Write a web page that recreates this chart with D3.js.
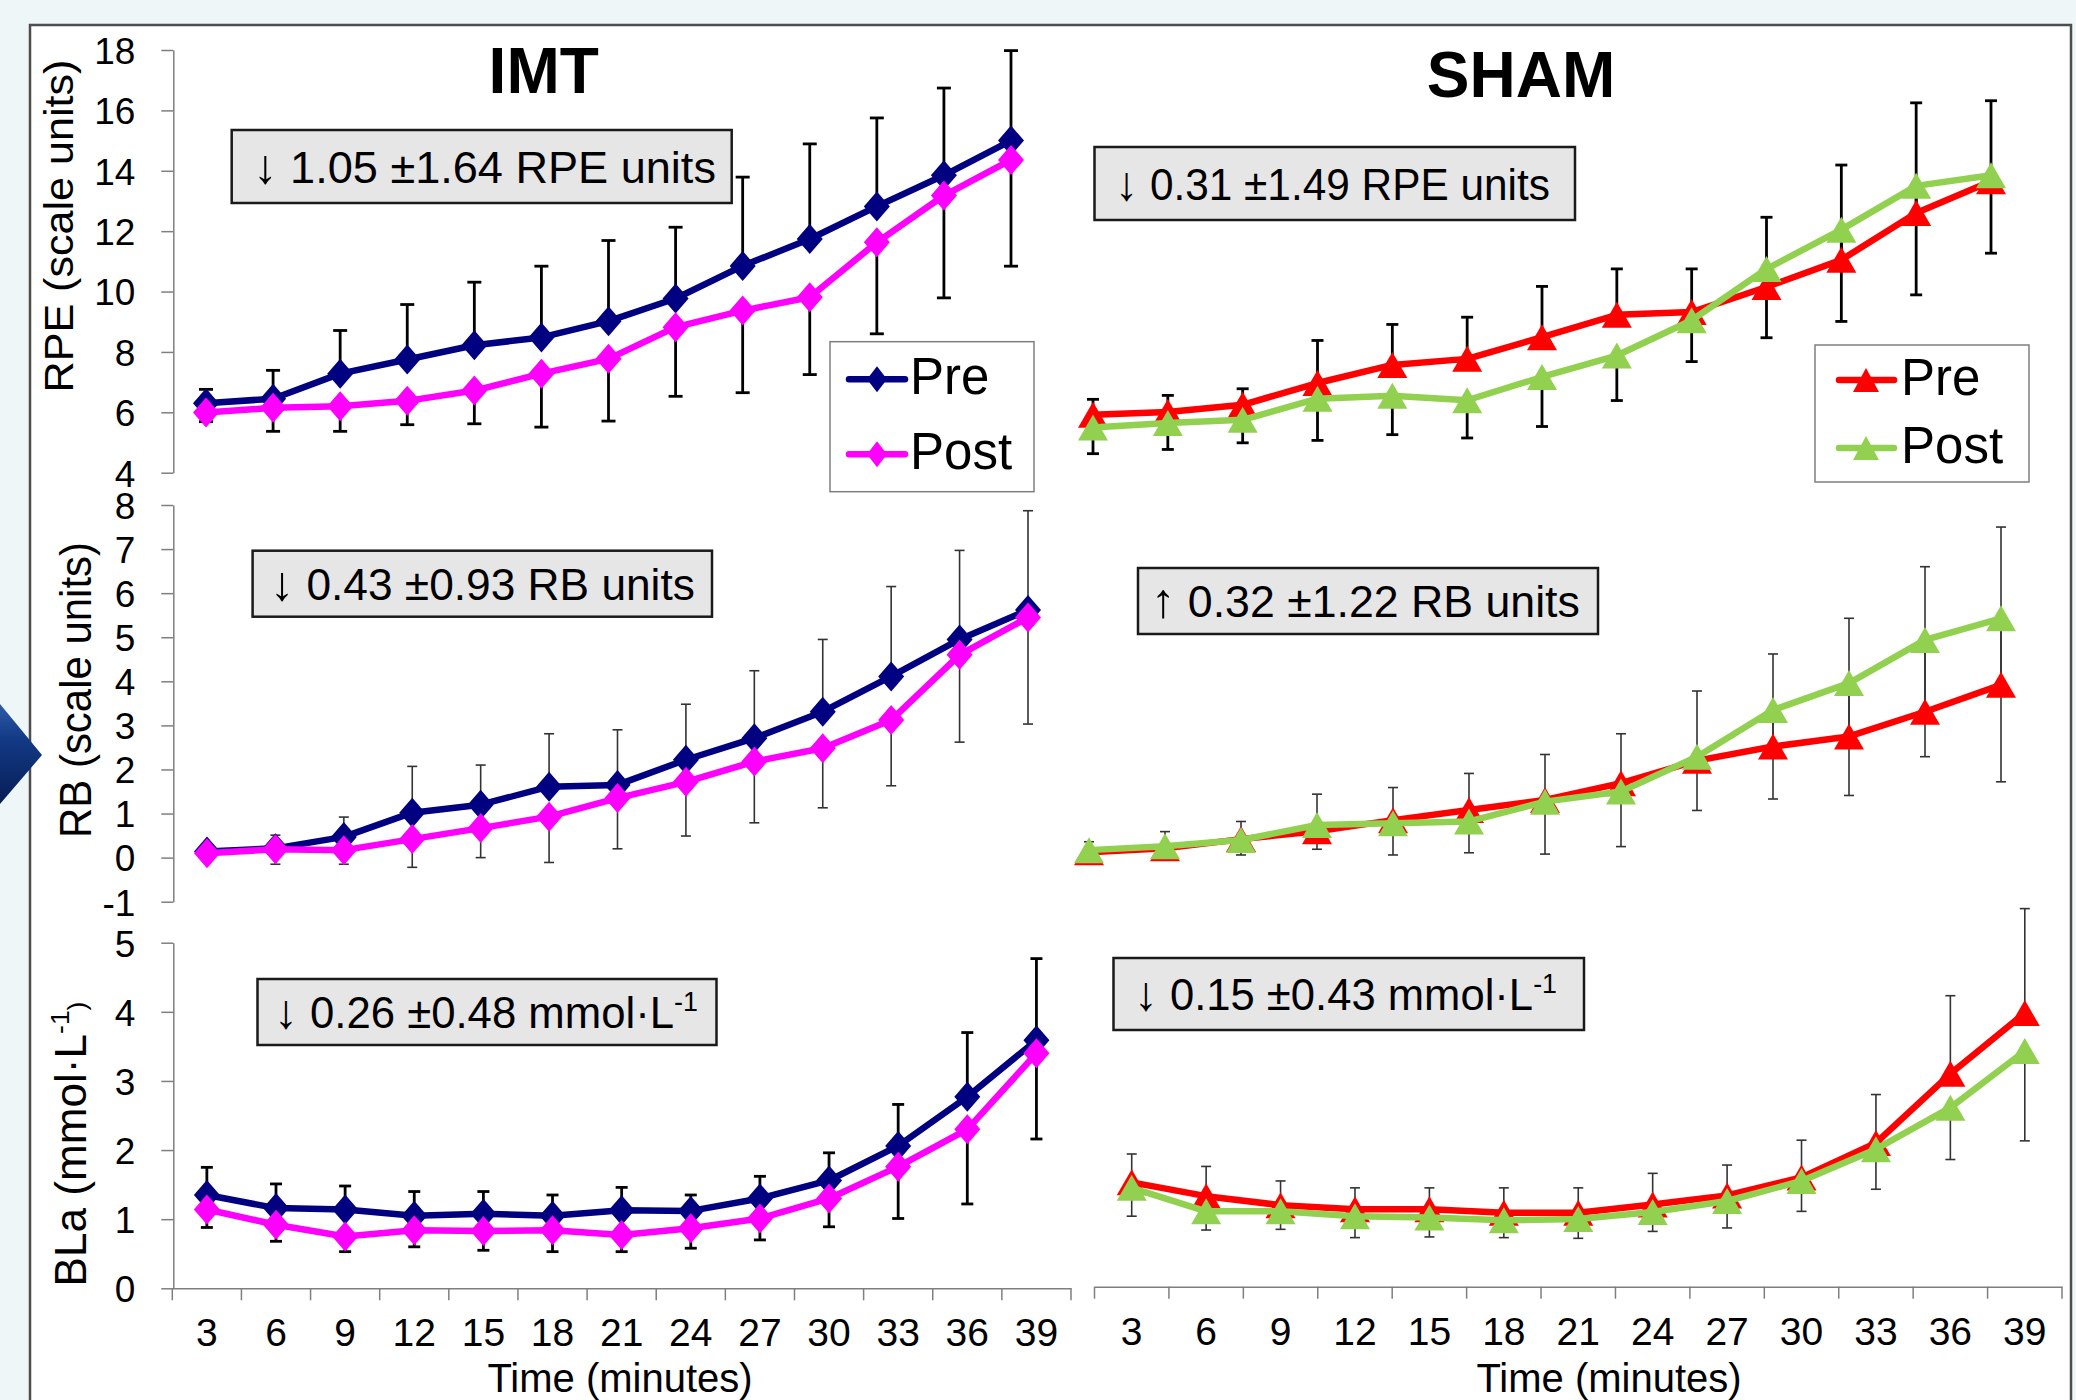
<!DOCTYPE html>
<html>
<head>
<meta charset="utf-8">
<script src="https://cdn.jsdelivr.net/npm/d3@7"></script>
<style>
	body { margin: 0; background: #eef6f8; }
	svg text { font-family: "Liberation Sans", Arial, sans-serif; fill: #000; }
</style>
</head>
<body>
<svg id="chart" width="2076" height="1400"></svg>
<script>
// x categories (minutes)
const TIMES = [3, 6, 9, 12, 15, 18, 21, 24, 27, 30, 33, 36, 39];

const RPE_TICKS = [4, 6, 8, 10, 12, 14, 16, 18];
const RB_TICKS = [-1, 0, 1, 2, 3, 4, 5, 6, 7, 8];
const BLA_TICKS = [0, 1, 2, 3, 4, 5];

// IMT group, means and SD (pre bars drawn up, post bars drawn down)
const IMT_RPE_PRE = [6.3, 6.45, 7.28, 7.75, 8.22, 8.48, 9.02, 9.77, 10.85, 11.74, 12.82, 13.85, 15.0];
const IMT_RPE_PRE_SD = [0.46, 0.94, 1.43, 1.82, 2.09, 2.36, 2.67, 2.36, 2.94, 3.15, 2.93, 2.89, 2.98];
const IMT_RPE_POST = [5.99, 6.15, 6.2, 6.38, 6.72, 7.28, 7.77, 8.82, 9.37, 9.81, 11.63, 13.18, 14.36];
const IMT_RPE_POST_SD = [0.3, 0.78, 0.83, 0.79, 1.1, 1.77, 2.06, 2.29, 2.72, 2.56, 3.03, 3.39, 3.52];

const IMT_RB_PRE = [0.14, 0.21, 0.47, 1.02, 1.2, 1.61, 1.65, 2.22, 2.71, 3.31, 4.11, 4.95, 5.62];
const IMT_RB_PRE_SD = [0.16, 0.3, 0.45, 1.05, 0.9, 1.2, 1.25, 1.26, 1.53, 1.64, 2.04, 2.02, 2.25];
const IMT_RB_POST = [0.1, 0.19, 0.17, 0.42, 0.67, 0.93, 1.35, 1.72, 2.18, 2.48, 3.12, 4.6, 5.45];
const IMT_RB_POST_SD = [0.1, 0.34, 0.32, 0.64, 0.67, 1.04, 1.15, 1.23, 1.39, 1.35, 1.49, 1.98, 2.42];

const IMT_BLA_PRE = [1.35, 1.16, 1.14, 1.05, 1.08, 1.05, 1.13, 1.12, 1.3, 1.56, 2.06, 2.77, 3.59];
const IMT_BLA_PRE_SD = [0.4, 0.35, 0.34, 0.35, 0.32, 0.3, 0.33, 0.23, 0.32, 0.4, 0.6, 0.93, 1.18];
const IMT_BLA_POST = [1.14, 0.92, 0.75, 0.84, 0.83, 0.84, 0.77, 0.87, 1.01, 1.3, 1.76, 2.3, 3.4];
const IMT_BLA_POST_SD = [0.26, 0.24, 0.22, 0.24, 0.28, 0.31, 0.24, 0.29, 0.31, 0.41, 0.75, 1.08, 1.24];

// SHAM group
const SHAM_RPE_PRE = [5.92, 6.01, 6.25, 6.97, 7.57, 7.77, 8.49, 9.23, 9.32, 10.15, 11.05, 12.6, 13.65];
const SHAM_RPE_PRE_SD = [0.51, 0.55, 0.53, 1.41, 1.34, 1.38, 1.68, 1.52, 1.43, 2.31, 3.14, 3.65, 2.67];
const SHAM_RPE_POST = [5.5, 5.65, 5.75, 6.45, 6.55, 6.4, 7.17, 7.88, 9.05, 10.75, 12.05, 13.5, 13.85];
const SHAM_RPE_POST_SD = [0.87, 0.88, 0.76, 1.38, 1.29, 1.25, 1.64, 1.49, 1.37, 2.28, 3.04, 3.61, 2.58];

const SHAM_RB_PRE = [0.12, 0.21, 0.42, 0.6, 0.85, 1.08, 1.31, 1.69, 2.2, 2.52, 2.75, 3.31, 3.92];
const SHAM_RB_PRE_SD = [0.24, 0.38, 0.4, 0.84, 0.74, 0.83, 1.03, 1.12, 1.58, 2.1, 2.68, 3.29, 3.58];
const SHAM_RB_POST = [0.17, 0.26, 0.4, 0.74, 0.78, 0.82, 1.27, 1.5, 2.29, 3.35, 3.96, 4.94, 5.43];
const SHAM_RB_POST_SD = [0.12, 0.14, 0.34, 0.55, 0.72, 0.71, 1.19, 1.25, 1.22, 2.02, 2.55, 2.65, 3.71];

const SHAM_BLA_PRE = [1.51, 1.31, 1.18, 1.12, 1.12, 1.07, 1.07, 1.19, 1.32, 1.58, 2.08, 3.08, 3.96];
const SHAM_BLA_PRE_SD = [0.41, 0.43, 0.35, 0.31, 0.31, 0.36, 0.36, 0.45, 0.44, 0.54, 0.7, 1.13, 1.51];
const SHAM_BLA_POST = [1.43, 1.09, 1.09, 1.02, 1.0, 0.96, 0.98, 1.08, 1.24, 1.53, 1.99, 2.59, 3.41];
const SHAM_BLA_POST_SD = [0.41, 0.27, 0.26, 0.31, 0.28, 0.25, 0.28, 0.28, 0.39, 0.44, 0.58, 0.75, 1.3];

// change boxes: [arrow, text, superscript]
const NOTE_IMT_RPE = ["↓", " 1.05 ±1.64 RPE units", ""];
const NOTE_SHAM_RPE = ["↓", " 0.31 ±1.49 RPE units", ""];
const NOTE_IMT_RB = ["↓", " 0.43 ±0.93 RB units", ""];
const NOTE_SHAM_RB = ["↑", " 0.32 ±1.22 RB units", ""];
const NOTE_IMT_BLA = ["↓", " 0.26 ±0.48 mmol·L", "-1"];
const NOTE_SHAM_BLA = ["↓", " 0.15 ±0.43 mmol·L", "-1"];

const SERIES_NAMES = ["Pre", "Post"];
const IMT_COLORS = ["#000080", "#FF00FF"];
const SHAM_COLORS = ["#FF0000", "#92D050"];

const FONT = '"Liberation Sans", Arial, sans-serif';


var svg = d3.select('#chart');

// slide background and white panel
svg.append('rect')
	.attr('width', 2076).attr('height', 1400)
	.attr('fill', '#eef6f8');
svg.append('rect')
	.attr('x', 30).attr('y', 25)
	.attr('width', 2041).attr('height', 1420)
	.attr('fill', '#fff')
	.attr('stroke', '#4d4d4d')
	.attr('stroke-width', 2.5);

// navigation chevron on the left edge
var grad = svg.append('defs').append('linearGradient')
	.attr('id', 'chev').attr('x1', 0).attr('y1', 0).attr('x2', 0).attr('y2', 1);
grad.append('stop').attr('offset', '0%').attr('stop-color', '#2f5aa8');
grad.append('stop').attr('offset', '35%').attr('stop-color', '#123a85');
grad.append('stop').attr('offset', '100%').attr('stop-color', '#081d55');
svg.append('path')
	.attr('d', 'M0,704L42,755L0,804Z')
	.attr('fill', 'url(#chev)');


function diamond(w, h) {
	return 'M0,' + (-h) + 'L' + w + ',0L0,' + h + 'L' + (-w) + ',0Z';
}
function triangle(w, h) {
	return 'M0,' + (-h) + 'L' + w + ',' + h + 'L' + (-w) + ',' + h + 'Z';
}

// squeeze/stretch a text so its length matches the original
function fitText(text, target) {
	var w = text.node().getComputedTextLength();
	text.attr('transform', 'scale(' + (target / w) + ',1)');
}

function drawChart(c) {
	var x, xPos;
	if (c.band) {
		x = d3.scaleBand().domain(TIMES).range(c.xRange);
		xPos = function(d) { return x(d) + x.bandwidth() / 2; };
	} else {
		x = d3.scalePoint().domain(TIMES).range(c.xRange);
		xPos = function(d) { return x(d); };
	}
	var y = d3.scaleLinear().domain(c.yDomain).range(c.yRange);
	var g = svg.append('g');

	// y axis (IMT side only)
	if (c.yTicks) {
		var ya = g.append('g')
			.attr('transform', 'translate(' + c.yAxisX + ',0)')
			.call(d3.axisLeft(y)
				.tickValues(c.yTicks)
				.tickFormat(function(d) { return String(d); })
				.tickSize(12).tickSizeOuter(0).tickPadding(26))
			.attr('color', '#7f7f7f')
			.attr('font-size', 37)
			.attr('font-family', FONT);
		ya.select('.domain').attr('stroke-width', 1.5);
		ya.selectAll('.tick line').attr('stroke-width', 1.5);
		ya.selectAll('.tick text').attr('fill', '#000').attr('dy', '0.36em');
	}

	// x axis with ticks between categories (bottom charts)
	if (c.band) {
		var xa = g.append('g')
			.attr('transform', 'translate(0,' + y(0) + ')')
			.call(d3.axisBottom(x).tickSize(0).tickSizeOuter(0))
			.attr('color', '#7f7f7f')
			.attr('font-size', 39)
			.attr('font-family', FONT);
		xa.select('.domain').attr('stroke-width', 1.5);
		xa.selectAll('.tick text').attr('fill', '#000').attr('y', 58).attr('dy', 0);
		var edges = TIMES.map(function(d) { return x(d); }).concat([x.range()[1]]);
		xa.selectAll('.edge').data(edges).join('line')
			.attr('class', 'edge')
			.attr('x1', function(d) { return d; })
			.attr('x2', function(d) { return d; })
			.attr('y1', 0).attr('y2', 12)
			.attr('stroke', '#7f7f7f')
			.attr('stroke-width', 1.5);
	}

	// error bars: pre goes up, post goes down
	var sets = [
		{ m: c.pre, sd: c.preSd, dir: 1 },
		{ m: c.post, sd: c.postSd, dir: -1 },
	];
	sets.forEach(function(s) {
		var bars = g.append('g')
			.attr('stroke', c.barColor)
			.attr('stroke-width', c.barWidth)
			.selectAll('g').data(TIMES).join('g');
		bars.append('line')
			.attr('x1', function(d) { return xPos(d); })
			.attr('x2', function(d) { return xPos(d); })
			.attr('y1', function(d, i) { return y(s.m[i]); })
			.attr('y2', function(d, i) { return y(s.m[i] + s.dir * s.sd[i]); });
		bars.append('line')
			.attr('x1', function(d) { return xPos(d) - c.cap; })
			.attr('x2', function(d) { return xPos(d) + c.cap; })
			.attr('y1', function(d, i) { return y(s.m[i] + s.dir * s.sd[i]); })
			.attr('y2', function(d, i) { return y(s.m[i] + s.dir * s.sd[i]); });
	});

	// lines and markers, post drawn on top
	var line = d3.line()
		.x(function(d) { return xPos(d[0]); })
		.y(function(d) { return y(d[1]); });
	[c.pre, c.post].forEach(function(vals, k) {
		var pts = TIMES.map(function(t, i) { return [t, vals[i]]; });
		g.append('path')
			.datum(pts)
			.attr('d', line)
			.attr('fill', 'none')
			.attr('stroke', c.colors[k])
			.attr('stroke-width', 6.5)
			.attr('stroke-linejoin', 'round');
		g.append('g').selectAll('path').data(pts).join('path')
			.attr('transform', function(d) { return 'translate(' + xPos(d[0]) + ',' + y(d[1]) + ')'; })
			.attr('d', c.marker)
			.attr('fill', c.colors[k]);
	});

	// change box
	var n = c.note;
	g.append('rect')
		.attr('x', n.box[0]).attr('y', n.box[1])
		.attr('width', n.box[2]).attr('height', n.box[3])
		.attr('fill', '#e6e6e6')
		.attr('stroke', '#1a1a1a')
		.attr('stroke-width', 2.5);
	var nt = g.append('g')
		.attr('transform', 'translate(' + n.tx + ',' + n.ty + ')')
		.append('text')
		.attr('font-size', 44);
	nt.append('tspan').attr('font-size', 48).text(n.txt[0]);
	nt.append('tspan').text(n.txt[1]);
	if (n.txt[2]) {
		nt.append('tspan').attr('font-size', 27).attr('dy', -17).text(n.txt[2]);
	}
	fitText(nt, n.width);

	// legend
	if (c.legend) {
		var L = c.legend;
		g.append('rect')
			.attr('x', L.box[0]).attr('y', L.box[1])
			.attr('width', L.box[2]).attr('height', L.box[3])
			.attr('fill', '#fff')
			.attr('stroke', '#7f7f7f')
			.attr('stroke-width', 1.5);
		SERIES_NAMES.forEach(function(name, k) {
			g.append('line')
				.attr('x1', L.lineX[0]).attr('x2', L.lineX[1])
				.attr('y1', L.rows[k]).attr('y2', L.rows[k])
				.attr('stroke', c.colors[k])
				.attr('stroke-width', 6.5)
				.attr('stroke-linecap', 'round');
			g.append('path')
				.attr('transform', 'translate(' + L.markX + ',' + L.rows[k] + ')')
				.attr('d', L.marker)
				.attr('fill', c.colors[k]);
			g.append('text')
				.attr('x', L.textX)
				.attr('y', L.rows[k] + 15)
				.attr('font-size', 51)
				.text(name);
		});
	}
}

var rpeY = { yDomain: [4, 18], yRange: [472.7, 50] };
var rbY = { yDomain: [-1, 8], yRange: [901.7, 505] };

var charts = [
	{
		pre: IMT_RPE_PRE, preSd: IMT_RPE_PRE_SD, post: IMT_RPE_POST, postSd: IMT_RPE_POST_SD,
		colors: IMT_COLORS, marker: diamond(13, 15),
		xRange: [206, 1011], yDomain: rpeY.yDomain, yRange: rpeY.yRange,
		yTicks: RPE_TICKS, yAxisX: 173.3, barColor: '#000', barWidth: 2.8, cap: 7,
		note: { txt: NOTE_IMT_RPE, box: [231.7, 130, 500, 73], tx: 253, ty: 183, width: 463 },
		legend: { box: [830, 341.7, 204, 150], rows: [379.3, 454.3], lineX: [849, 905], markX: 877, textX: 910, marker: diamond(10, 13) }
	},
	{
		pre: IMT_RB_PRE, preSd: IMT_RB_PRE_SD, post: IMT_RB_POST, postSd: IMT_RB_POST_SD,
		colors: IMT_COLORS, marker: diamond(13, 15),
		xRange: [207, 1028], yDomain: rbY.yDomain, yRange: rbY.yRange,
		yTicks: RB_TICKS, yAxisX: 173.3, barColor: '#333', barWidth: 1.6, cap: 5,
		note: { txt: NOTE_IMT_RB, box: [252.6, 550.7, 459.4, 66], tx: 270, ty: 600, width: 425 }
	},
	{
		pre: IMT_BLA_PRE, preSd: IMT_BLA_PRE_SD, post: IMT_BLA_POST, postSd: IMT_BLA_POST_SD,
		colors: IMT_COLORS, marker: diamond(13, 15), band: true,
		xRange: [172.3, 1071], yDomain: [0, 5], yRange: [1288.3, 942.7],
		yTicks: BLA_TICKS, yAxisX: 173.3, barColor: '#000', barWidth: 2.8, cap: 6,
		note: { txt: NOTE_IMT_BLA, box: [257.5, 979, 459, 66], tx: 274, ty: 1028, width: 424 }
	},
	{
		pre: SHAM_RPE_PRE, preSd: SHAM_RPE_PRE_SD, post: SHAM_RPE_POST, postSd: SHAM_RPE_POST_SD,
		colors: SHAM_COLORS, marker: triangle(15, 13),
		xRange: [1093, 1991], yDomain: rpeY.yDomain, yRange: rpeY.yRange,
		barColor: '#000', barWidth: 2.8, cap: 6,
		note: { txt: NOTE_SHAM_RPE, box: [1094.5, 147, 480.5, 73], tx: 1115, ty: 200, width: 435 },
		legend: { box: [1815, 345, 214, 137], rows: [380, 448], lineX: [1839, 1894], markX: 1866, textX: 1901, marker: triangle(13, 12) }
	},
	{
		pre: SHAM_RB_PRE, preSd: SHAM_RB_PRE_SD, post: SHAM_RB_POST, postSd: SHAM_RB_POST_SD,
		colors: SHAM_COLORS, marker: triangle(15, 13),
		xRange: [1089, 2001], yDomain: rbY.yDomain, yRange: rbY.yRange,
		barColor: '#333', barWidth: 1.6, cap: 5,
		note: { txt: NOTE_SHAM_RB, box: [1138, 568, 460, 66], tx: 1151, ty: 617, width: 429 }
	},
	{
		pre: SHAM_BLA_PRE, preSd: SHAM_BLA_PRE_SD, post: SHAM_BLA_POST, postSd: SHAM_BLA_POST_SD,
		colors: SHAM_COLORS, marker: triangle(15, 13), band: true,
		xRange: [1094.5, 2062], yDomain: [0, 5], yRange: [1286.7, 941.1],
		barColor: '#333', barWidth: 1.6, cap: 5,
		note: { txt: NOTE_SHAM_BLA, box: [1113.5, 958, 470.5, 72], tx: 1134, ty: 1010, width: 423 }
	},
];

charts.forEach(drawChart);

// group titles
svg.append('text').attr('x', 543.7).attr('y', 93)
	.attr('text-anchor', 'middle').attr('font-size', 64).attr('font-weight', 'bold')
	.text('IMT');
svg.append('text').attr('x', 1521).attr('y', 97)
	.attr('text-anchor', 'middle').attr('font-size', 64).attr('font-weight', 'bold')
	.text('SHAM');

// x axis titles
[620, 1609].forEach(function(cx) {
	svg.append('text').attr('x', cx).attr('y', 1392)
		.attr('text-anchor', 'middle').attr('font-size', 40)
		.text('Time (minutes)');
});

// rotated y labels
function yLabel(parts, bx, cy, size, len) {
	var t = svg.append('g')
		.attr('transform', 'translate(' + bx + ',' + cy + ') rotate(-90)')
		.append('text')
		.attr('text-anchor', 'middle')
		.attr('font-size', size);
	parts.forEach(function(p) {
		var s = t.append('tspan').text(p[0]);
		if (p[1]) s.attr('font-size', size * 0.6).attr('dy', p[1]);
	});
	fitText(t, len);
}
yLabel([['RPE (scale units)']], 73, 226, 40, 333);
yLabel([['RB (scale units)']], 91, 690, 45, 296);
yLabel([['BLa  (mmol·L'], ['-1', -17], [')', 17]], 86, 1144, 44, 285);
</script>
</body>
</html>
